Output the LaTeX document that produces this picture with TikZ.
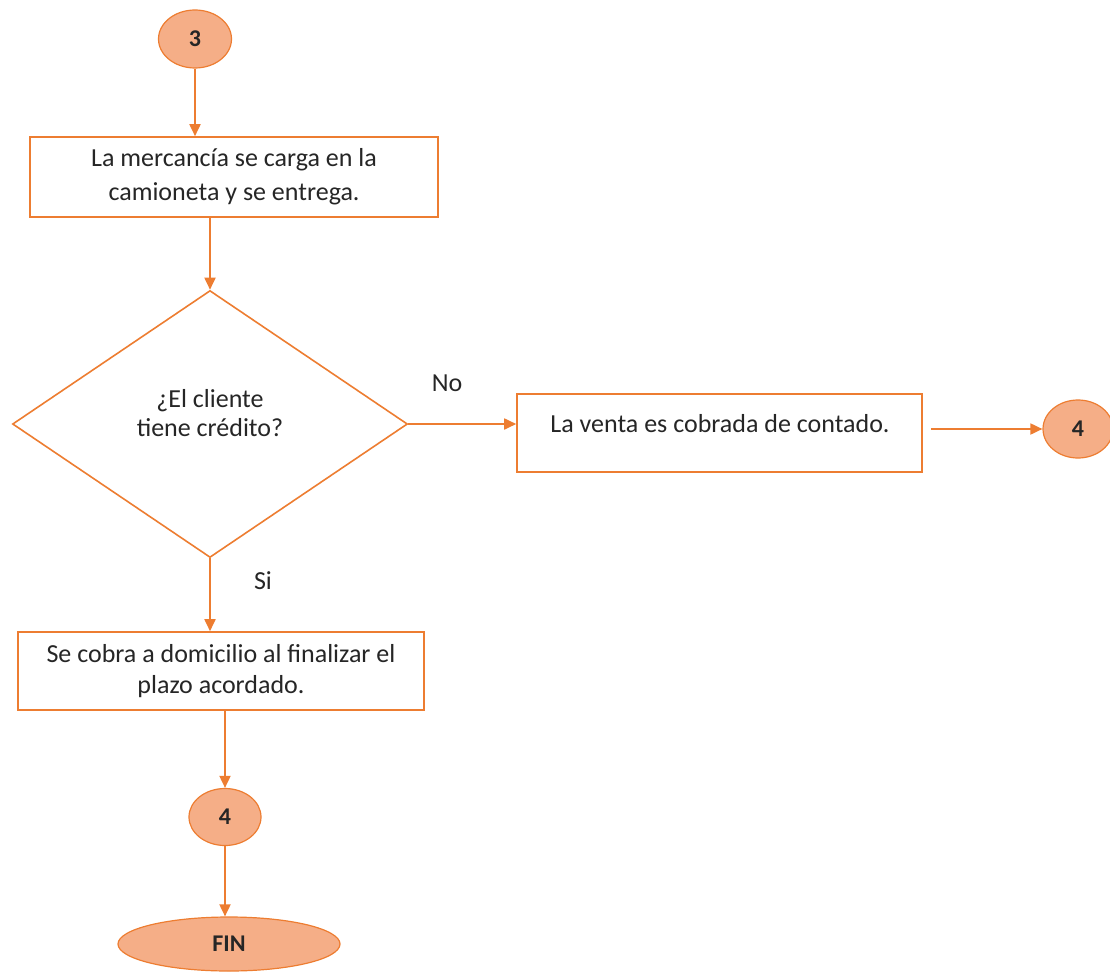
\documentclass[tikz,border=0pt]{standalone}
\usepackage{fontspec}
\setmainfont{Carlito}
\usetikzlibrary{shapes.geometric,arrows.meta}
\definecolor{edge}{HTML}{ED7D31}
\definecolor{bubble}{HTML}{F5AE87}
\definecolor{ink}{HTML}{262626}
\begin{document}
\begin{tikzpicture}[x=1pt,y=-1pt,
  every node/.style={font=\fontsize{26}{33}\selectfont,text=ink},
  procbox/.style={draw=edge,line width=1.6pt,fill=white,align=center,inner sep=0pt},
  conn/.style={ellipse,draw=edge,line width=1.2pt,fill=bubble,inner sep=0pt,font=\fontsize{24}{26}\selectfont\bfseries},
  decision/.style={diamond,draw=edge,line width=1.6pt,fill=white,align=center,inner sep=0pt,aspect=1.48},
  flow/.style={draw=edge,line width=1.8pt,-{Triangle[length=12pt,width=11pt]}}]
\useasboundingbox (0,0) rectangle (1110,971);

% start connector
\node[conn,minimum width=73,minimum height=58] (c3) at (195,39) {3};

% loading and delivery
\node[procbox,minimum width=408,minimum height=80] (b1) at (234,177)
  {La mercancía se carga en la\\[1pt]camioneta y se entrega.};

% credit decision
\node[decision,minimum width=395,minimum height=267] (d) at (210,424) {};
\node[align=center,font=\fontsize{26}{29}\selectfont] (dq) at (210,413) {¿El cliente\\tiene crédito?};

% cash sale
\node[procbox,minimum width=405,minimum height=78] (b2) at (719.5,433) {};
\node (b2t) at (720,424) {La venta es cobrada de contado.};

% off-page connector on the right
\node[conn,minimum width=70,minimum height=58] (c4a) at (1078,429) {4};

% collection at home
\node[procbox,minimum width=406,minimum height=78,font=\fontsize{26}{31}\selectfont] (b3) at (221,671)
  {Se cobra a domicilio al finalizar el\\plazo acordado.};

% off-page connector below
\node[conn,minimum width=72,minimum height=57] (c4b) at (225,817) {4};

% end terminal
\node[conn,minimum width=222,minimum height=54] (fin) at (229,944) {FIN};

% branch labels
\node (no) at (447,383) {No};
\node (si) at (263,581) {Si};

% connectors
\draw[flow] (c3.south) -- (c3.south |- b1.north);
\draw[flow] (d.north |- b1.south) -- (d.north);
\draw[flow] (d.east) -- (b2.west |- d.east);
\coordinate (b2out) at (b2.east |- c4a.west);
\draw[flow] ([xshift=8pt]b2out) -- (c4a.west);
\draw[flow] (d.south) -- (d.south |- b3.north);
\draw[flow] (c4b.north |- b3.south) -- (c4b.north);
\draw[flow] (c4b.south) -- (c4b.south |- fin.north);
\end{tikzpicture}
\end{document}
